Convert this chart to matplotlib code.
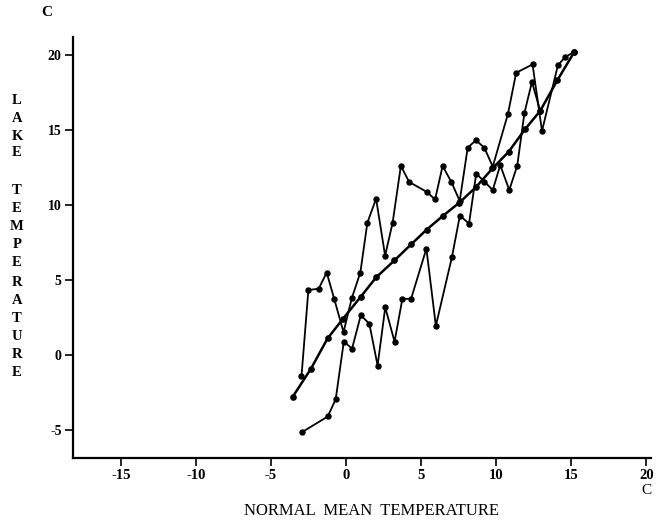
import matplotlib
matplotlib.use("Agg")
import matplotlib.pyplot as plt

plt.rcParams["axes.unicode_minus"] = False

# smooth (regression-like) series
smooth_x = [-3.55, -2.33, -1.23, -0.22, 0.98, 2.0, 3.22, 4.33, 5.37, 6.47,
            7.55, 8.65, 9.75, 10.82, 11.91, 12.93, 14.07, 15.2]
smooth_y = [-2.78, -0.90, 1.11, 2.40, 3.89, 5.18, 6.31, 7.38, 8.37, 9.30,
            10.17, 11.2, 12.45, 13.55, 15.05, 16.29, 18.33, 20.22]

# upper zigzag series
upper_x = [-2.97, -2.51, -1.82, -1.29, -0.78, -0.17, 0.39, 0.95, 1.42, 2.0,
           2.6, 3.1, 3.65, 4.2, 5.38, 5.93, 6.43, 7.02, 7.57, 8.1,
           8.65, 9.21, 9.77, 10.78, 11.33, 12.42, 13.05, 14.11, 14.6, 15.2]
upper_y = [-1.43, 4.33, 4.43, 5.5, 3.71, 1.53, 3.82, 5.5, 8.83, 10.43,
           6.63, 8.82, 12.62, 11.55, 10.88, 10.38, 12.62, 11.53, 10.28, 13.83,
           14.33, 13.83, 12.57, 16.08, 18.83, 19.39, 14.95, 19.33, 19.89, 20.22]

# lower zigzag series
lower_x = [-2.91, -1.22, -0.69, -0.15, 0.4, 0.98, 1.55, 2.1, 2.61, 3.23,
           3.75, 4.33, 5.35, 5.98, 7.05, 7.58, 8.19, 8.67, 9.21, 9.77,
           10.27, 10.87, 11.4, 11.88, 12.38, 12.93]
lower_y = [-5.13, -4.1, -2.95, 0.9, 0.43, 2.65, 2.09, -0.7, 3.18, 0.89,
           3.75, 3.75, 7.1, 1.95, 6.53, 9.3, 8.77, 12.1, 11.57, 11.01,
           12.67, 11.01, 12.63, 16.15, 18.22, 16.29]

x_ticks = [-15, -10, -5, 0, 5, 10, 15, 20]
y_ticks = [-5, 0, 5, 10, 15, 20]

serif = ["Liberation Serif", "DejaVu Serif"]

fig = plt.figure(figsize=(6.68, 5.22), dpi=100)
ax = fig.add_axes([0.109, 0.1226, 0.866, 0.806])

ax.plot(upper_x, upper_y, color="black", lw=1.3, marker="o", ms=3.6)
ax.plot(lower_x, lower_y, color="black", lw=1.3, marker="o", ms=3.6)
ax.plot(smooth_x, smooth_y, color="black", lw=1.8, marker="o", ms=3.8)

ax.set_xlim(-18.2, 20.33)
ax.set_ylim(-6.87, 21.2)

for s in ["top", "right"]:
    ax.spines[s].set_visible(False)
ax.spines["left"].set_linewidth(1.6)
ax.spines["bottom"].set_linewidth(1.6)

ax.set_xticks(x_ticks)
ax.set_yticks(y_ticks)
ax.set_xticklabels([str(v) for v in x_ticks], family=serif, fontsize=10.5, weight="bold")
ax.set_yticklabels([str(v) for v in y_ticks], family=serif, fontsize=10, weight="bold")
ax.tick_params(axis="both", direction="out", length=6, width=1.2, pad=2)

# axis labels
fig.text(47 / 668, 1 - 13 / 522, "C", family=serif, fontsize=11, weight="bold",
         ha="center", va="center")
fig.text(646 / 668, 1 - 491 / 522, "C", family=serif, fontsize=11,
         ha="center", va="center")
fig.text(372 / 668, 1 - 511 / 522, "NORMAL  MEAN  TEMPERATURE", family=serif,
         fontsize=12, ha="center", va="center")

letters_y = [("L", 100), ("A", 118), ("K", 136), ("E", 153),
             ("T", 190), ("E", 209), ("M", 227), ("P", 245), ("E", 263),
             ("R", 282), ("A", 300), ("T", 319), ("U", 337), ("R", 355), ("E", 373)]
for ch, py in letters_y:
    fig.text(17 / 668, 1 - py / 522, ch, family=serif, fontsize=10.5,
             weight="bold", ha="center", va="center")

plt.savefig("out.png", dpi=100)
